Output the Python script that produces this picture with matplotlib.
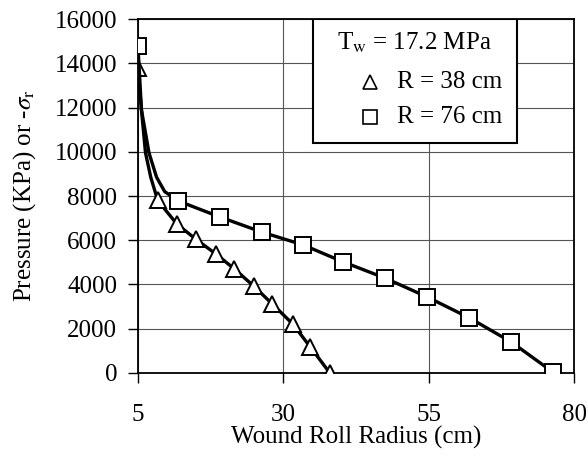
import matplotlib
matplotlib.use("Agg")
from matplotlib import pyplot as plt
from matplotlib.patches import Rectangle

plt.rcParams["font.family"] = ["Liberation Serif", "DejaVu Serif"]
plt.rcParams["mathtext.fontset"] = "stix"

# curve for R = 76 cm (extra unmarked points trace the steep start)
r76_x = [5.0, 5.6, 6.9, 8.2, 9.6, 11.9, 19.1, 26.3, 33.4, 40.3, 47.5, 54.7, 62.0, 69.2, 76.3]
r76_p = [14800, 11900, 9950, 8850, 8200, 7780, 7050, 6370, 5790, 5020, 4290, 3440, 2490, 1400, 50]
r76_marks = [0, 5, 6, 7, 8, 9, 10, 11, 12, 13, 14]

# curve for R = 38 cm
r38_x = [5.0, 5.6, 6.3, 7.2, 8.4, 11.7, 15.0, 18.4, 21.6, 24.9, 28.1, 31.6, 34.6, 38.0]
r38_p = [13800, 11900, 9950, 8850, 7800, 6730, 6040, 5380, 4700, 3930, 3120, 2220, 1190, 0]
r38_marks = [0, 4, 5, 6, 7, 8, 9, 10, 11, 12, 13]

x_ticks = [5, 30, 55, 80]
y_ticks = list(range(0, 16001, 2000))

legend_title = r"T$_\mathrm{w}$ = 17.2 MPa"
legend_labels = ["R = 38 cm", "R = 76 cm"]

fs = 18

fig = plt.figure(figsize=(5.87, 4.58), dpi=100)
ax = fig.add_axes([0.235, 0.1856, 0.743, 0.7729])

ax.plot(r38_x, r38_p, "-", color="black", lw=2.4, marker="^", markevery=r38_marks,
        ms=11, mfc="white", mec="black", mew=1.4, zorder=3)
ax.plot(r76_x, r76_p, "-", color="black", lw=2.4, marker="s", markevery=r76_marks,
        ms=11, mfc="white", mec="black", mew=1.4, zorder=3)

ax.set_xlim(5, 80)
ax.set_ylim(0, 16000)
ax.set_xticks(x_ticks)
ax.set_yticks(y_ticks)
ax.grid(True, color="#555555", lw=0.8)
ax.tick_params(direction="out", length=7, width=1, labelsize=fs, pad=8)
ax.tick_params(axis="x", pad=15)
for s in ax.spines.values():
    s.set_linewidth(1.3)

ax.set_xlabel("Wound Roll Radius (cm)", fontsize=fs, labelpad=0)
ax.set_ylabel(r"Pressure (KPa) or -$\sigma_\mathrm{r}$", fontsize=fs, labelpad=12)

# legend box drawn by hand to match the original layout
ax.add_patch(Rectangle((0.401, 0.650), 0.468, 0.350, transform=ax.transAxes,
                       facecolor="white", edgecolor="black", lw=1.5, zorder=5))
ax.text(0.456, 0.932, legend_title, transform=ax.transAxes, fontsize=fs,
        va="center", ha="left", zorder=6)
for y, m, lab in zip([0.822, 0.723], ["^", "s"], legend_labels):
    ax.plot([0.532], [y], transform=ax.transAxes, ls="none", marker=m, ms=9.5,
            mfc="white", mec="black", mew=1.2, zorder=6, clip_on=False)
    ax.text(0.594, y, lab, transform=ax.transAxes, fontsize=fs, va="center",
            ha="left", zorder=6)

fig.savefig("out.png", dpi=100)
